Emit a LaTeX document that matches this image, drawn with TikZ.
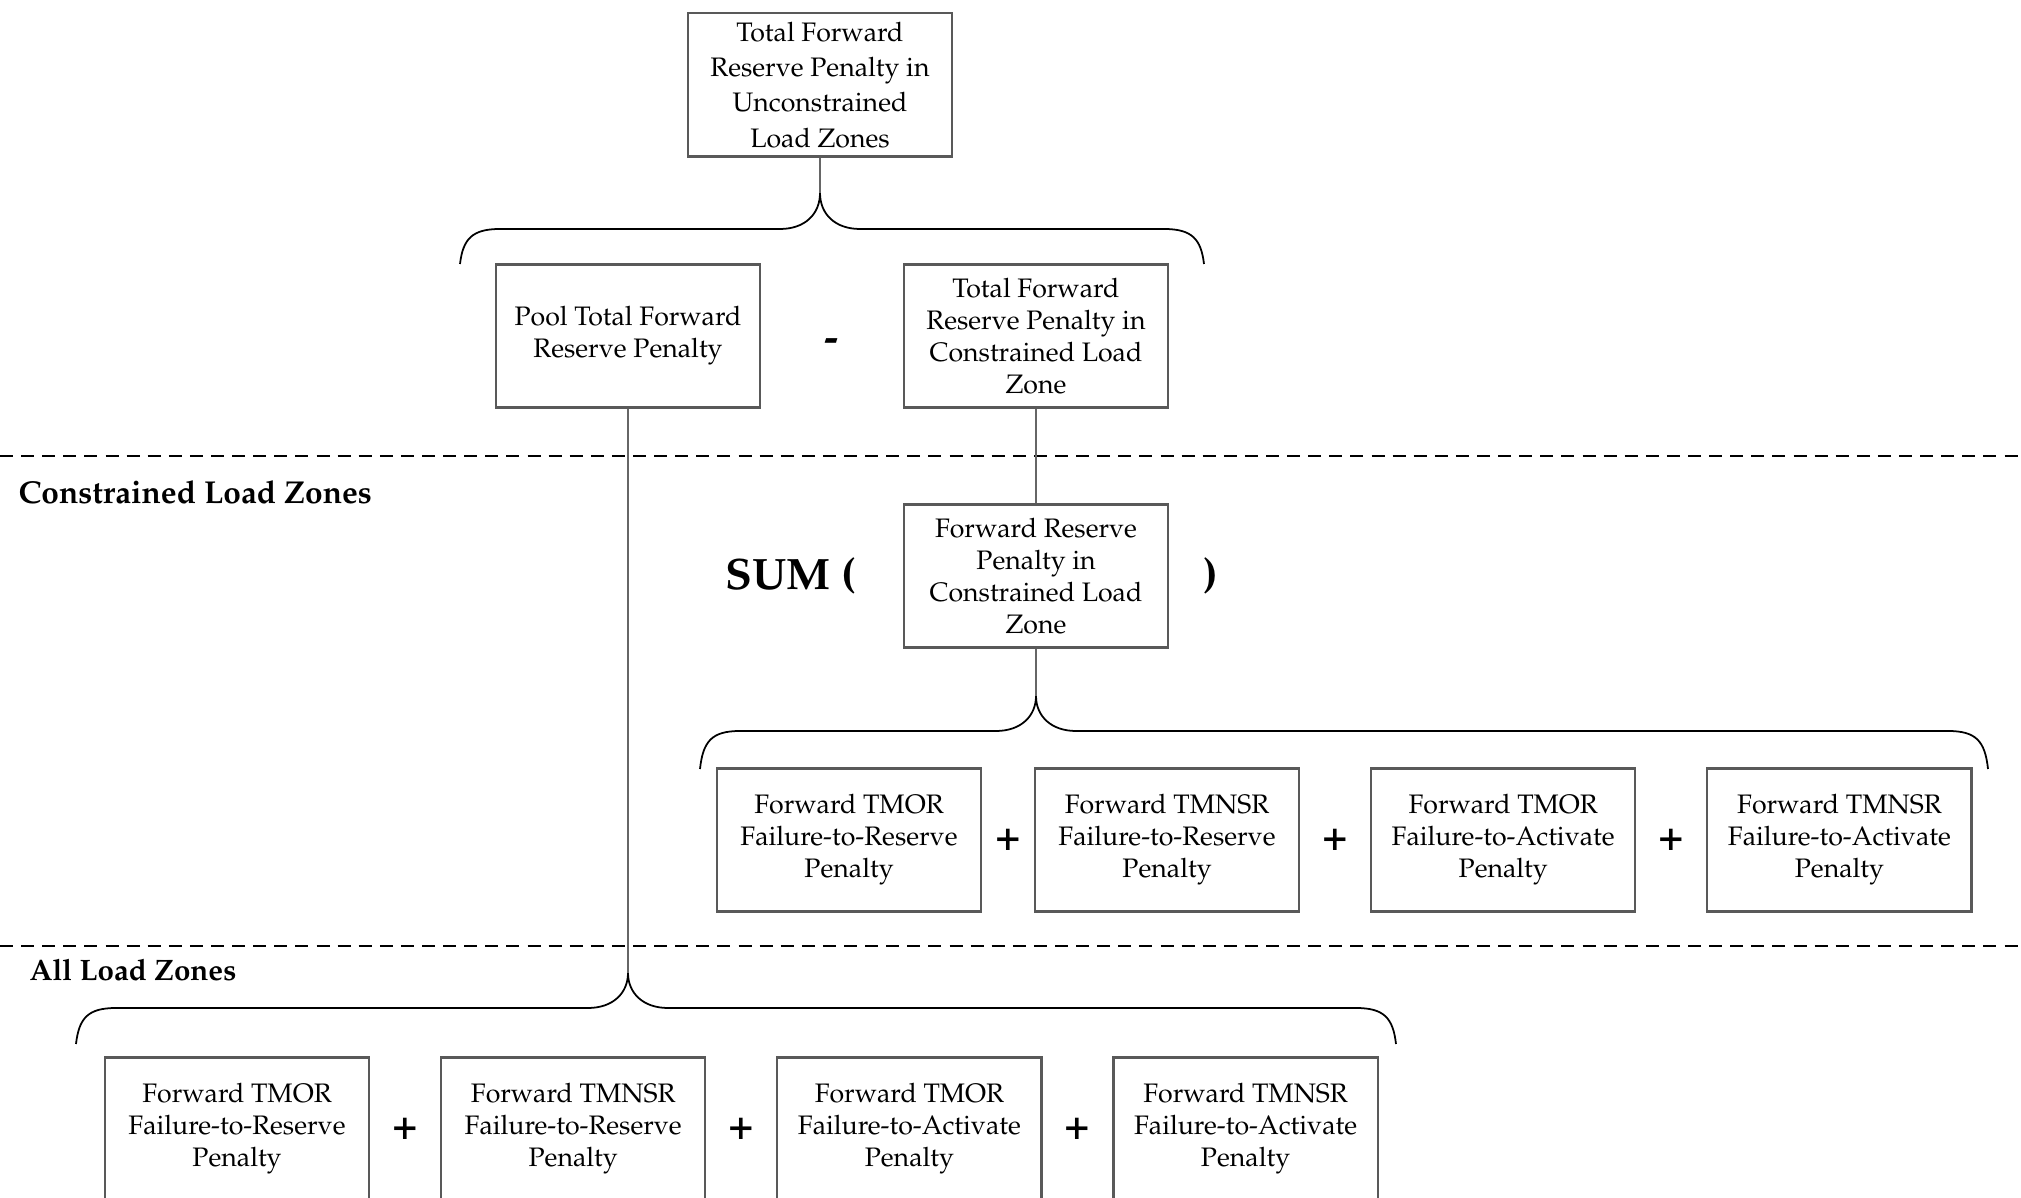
\documentclass[tikz,border=0pt]{standalone}
\usepackage[T1]{fontenc}
\usepackage{mathpazo}
\usepackage{tikz}
\usetikzlibrary{calc}
\usetikzlibrary{positioning}

% curly bracket: left x, right x, cusp x, cusp y, top y, tip y
\newcommand{\brc}[6]{%
  \draw (#1,#6) .. controls (#1+3,#5+10) and (#1+12,#5) .. (#1+40,#5)
    -- (#3-40,#5) .. controls (#3-15,#5) and (#3,#5-15) .. (#3,#4)
    .. controls (#3,#5-15) and (#3+15,#5) .. (#3+40,#5)
    -- (#2-40,#5) .. controls (#2-12,#5) and (#2-3,#5+10) .. (#2,#6);}

\begin{document}
\begin{tikzpicture}[x=0.01cm,y=-0.01cm,node distance=3.36cm,line width=0.5pt]
  \tikzstyle{box}=[draw=black!65, line width=0.6pt, minimum width=2.64cm, minimum height=1.43cm,
                   align=center, inner sep=1pt, font=\fontsize{7.6}{9.1}\selectfont]
  \tikzstyle{op}=[inner sep=0pt, font=\fontsize{12}{14}\selectfont\bfseries]
  \tikzstyle{zone}=[anchor=west, font=\fontsize{9}{11}\selectfont\bfseries]
  \tikzstyle{link}=[draw=black!60, line width=0.6pt]
  \tikzstyle{sep}=[line width=0.8pt, dash pattern=on 3.7pt off 2.3pt]
  \useasboundingbox (0,0) rectangle (2021,1198);

  \node[box, font=\fontsize{7.6}{10}\selectfont] (total) at (820,85) {Total Forward\\Reserve Penalty in\\Unconstrained\\Load Zones};
  \node[box] (pool) at (628,336) {Pool Total Forward\\Reserve Penalty};
  \node[box] (conpen) at (1036,336) {Total Forward\\Reserve Penalty in\\Constrained Load\\Zone};
  \node[op, yshift=-0.09cm] (minus) at ($(pool.east)!0.5!(conpen.west)$) {-};

  \draw[sep] (0,456) -- (2021,456);
  \node[zone] (conlbl) at (6,492) {Constrained Load Zones};

  \node[box] (zonepen) at (1036,576) {Forward Reserve\\Penalty in\\Constrained Load\\Zone};
  \node[op, font=\fontsize{12.5}{15}\selectfont\bfseries] (sum) [left=0.46cm of zonepen] {SUM (};
  \node[op, font=\fontsize{12.5}{15}\selectfont\bfseries] (close) [right=0.33cm of zonepen] {)};

  \node[box] (c1) at (849,840) {Forward TMOR\\Failure-to-Reserve\\Penalty};
  \node[box] (c2) at (1167,840) {Forward TMNSR\\Failure-to-Reserve\\Penalty};
  \node[box] (c3) [right of=c2] {Forward TMOR\\Failure-to-Activate\\Penalty};
  \node[box] (c4) [right of=c3] {Forward TMNSR\\Failure-to-Activate\\Penalty};

  \draw[sep] (0,946) -- (2021,946);
  \node[zone, font=\fontsize{8.4}{10}\selectfont\bfseries] (alllbl) at (17,970) {All Load Zones};

  \node[box] (a1) at (237,1129) {Forward TMOR\\Failure-to-Reserve\\Penalty};
  \node[box] (a2) [right of=a1] {Forward TMNSR\\Failure-to-Reserve\\Penalty};
  \node[box] (a3) [right of=a2] {Forward TMOR\\Failure-to-Activate\\Penalty};
  \node[box] (a4) [right of=a3] {Forward TMNSR\\Failure-to-Activate\\Penalty};

  \foreach \l/\r in {c1/c2,c2/c3,c3/c4,a1/a2,a2/a3,a3/a4}
    \node[op] (plus-\l) at ($(\l.east)!0.5!(\r.west)$) {+};

  % brackets
  \coordinate (b1) at (820,193);
  \coordinate (b2) at (1036,696);
  \coordinate (b3) at (628,973);
  \brc{460}{1204}{820}{193}{229}{264}
  \brc{700}{1988}{1036}{696}{731}{769}
  \brc{76}{1396}{628}{973}{1008}{1044}

  \draw[link] (total.south) -- (b1);
  \draw[link] (conpen.south) -- (zonepen.north);
  \draw[link] (zonepen.south) -- (b2);
  \draw[link] (pool.south) -- (b3);
\end{tikzpicture}
\end{document}
